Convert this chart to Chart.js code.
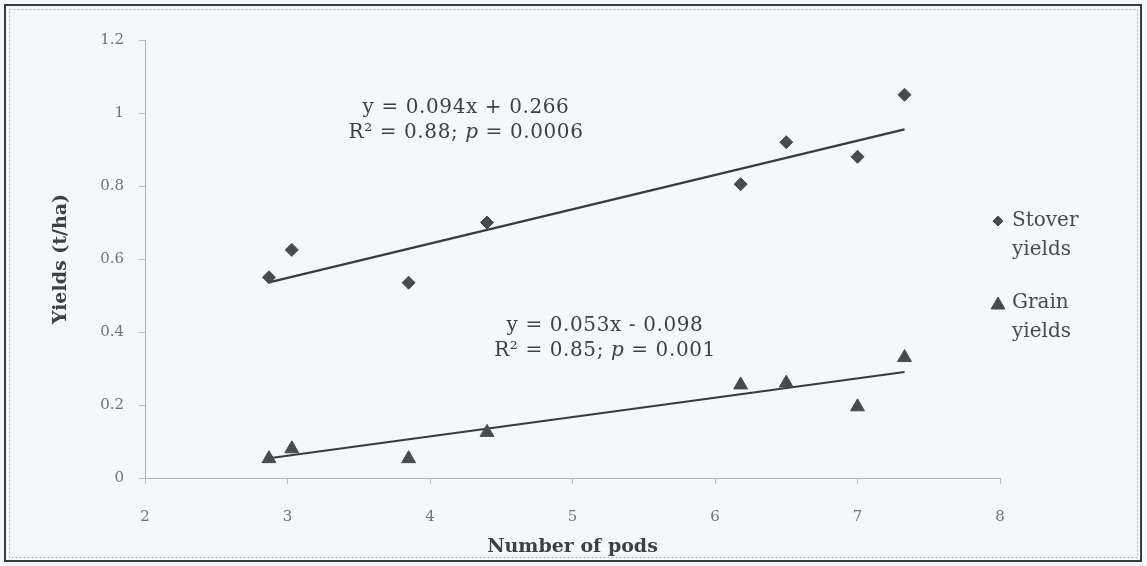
<!DOCTYPE html>
<html>
<head>
<meta charset="utf-8">
<title>Yields vs number of pods</title>
<script src="https://cdn.jsdelivr.net/npm/chart.js@4.4.1/dist/chart.umd.min.js"></script>
<style>
  html, body { margin: 0; padding: 0; background: #f4f8fa; }
  #wrap { width: 1147px; height: 566px; }
</style>
</head>
<body>
<div id="wrap"><canvas id="chart" width="1147" height="566"></canvas></div>
<script>
// Observations: number of pods per plant and the matching yields (t/ha)
const podCount    = [2.87, 3.03, 3.85, 4.40, 6.18, 6.50, 7.00, 7.33];
const stoverYield = [0.55, 0.625, 0.535, 0.70, 0.805, 0.92, 0.88, 1.05];
const grainYield  = [0.053, 0.08, 0.053, 0.125, 0.255, 0.26, 0.195, 0.33];

// Fitted regressions: [slope, intercept]
const stoverFit = [0.094, 0.266];
const grainFit  = [0.053, -0.098];
const fitRange  = [2.87, 7.33];

// Regression annotation text
const stoverNote = ['y = 0.094x + 0.266', ['R² = 0.88; ', 'p', ' = 0.0006']];
const grainNote  = ['y = 0.053x - 0.098', ['R² = 0.85; ', 'p', ' = 0.001']];

// Axis settings
const xTicks = { min: 2, max: 8, step: 1 };
const yTicks = { min: 0, max: 1.2, step: 0.2 };
const xTitle = 'Number of pods';
const yTitle = 'Yields (t/ha)';

const toPoints = (xs, ys) => xs.map((x, i) => ({ x, y: ys[i] }));
const fitLine = (fit) => fitRange.map(x => ({ x, y: fit[0] * x + fit[1] }));

const markerColor = '#4a4a4a';
const serif = "'DejaVu Serif', 'Liberation Serif', serif";

// Page background and the double frame around the figure
const framePlugin = {
  id: 'frame',
  beforeDraw(chart) {
    const ctx = chart.ctx;
    ctx.save();
    ctx.fillStyle = '#f4f8fa';
    ctx.fillRect(0, 0, chart.width, chart.height);
    ctx.strokeStyle = '#3a3a3a';
    ctx.lineWidth = 2;
    ctx.strokeRect(5, 5, chart.width - 11, chart.height - 10);
    ctx.strokeStyle = '#b0b4b6';
    ctx.lineWidth = 1;
    ctx.setLineDash([2, 2]);
    ctx.strokeRect(9.5, 9.5, chart.width - 19, chart.height - 18);
    ctx.restore();
  }
};

// Draws a line of text, with one italic segment, centred on x
function drawMixed(ctx, parts, cx, cy, size) {
  const fonts = parts.map((_, i) => (i === 1 ? 'italic ' : '') + size + 'px ' + serif);
  const widths = parts.map((p, i) => { ctx.font = fonts[i]; return ctx.measureText(p).width; });
  let x = cx - widths.reduce((a, b) => a + b, 0) / 2;
  parts.forEach((p, i) => {
    ctx.font = fonts[i];
    ctx.fillText(p, x, cy);
    x += widths[i];
  });
}

// Regression equations placed beside each fitted line
const notesPlugin = {
  id: 'notes',
  afterDatasetsDraw(chart, args, opts) {
    const ctx = chart.ctx;
    ctx.save();
    ctx.fillStyle = '#404040';
    ctx.textBaseline = 'middle';
    ctx.textAlign = 'left';
    ctx.letterSpacing = opts.spacing + 'px';
    opts.items.forEach(item => {
      drawMixed(ctx, [item.text[0]], item.x, item.y, opts.size);
      drawMixed(ctx, item.text[1], item.x, item.y + opts.gap, opts.size);
    });
    ctx.restore();
  }
};

// Legend at the right, each label wrapped onto two lines
const sideLegendPlugin = {
  id: 'sideLegend',
  afterDraw(chart, args, opts) {
    const ctx = chart.ctx;
    ctx.save();
    ctx.textBaseline = 'middle';
    ctx.textAlign = 'left';
    ctx.font = opts.size + 'px ' + serif;
    let y = opts.y;
    chart.data.datasets.forEach(ds => {
      if (!ds.showInLegend) return;
      ctx.fillStyle = ds.backgroundColor;
      ctx.strokeStyle = ds.borderColor;
      Chart.helpers.drawPoint(ctx, {
        pointStyle: ds.pointStyle,
        radius: ds.legendRadius,
        borderWidth: 1
      }, opts.x, y + ds.legendShift);
      ctx.fillStyle = '#4a4a4a';
      ds.label.split(' ').forEach((word, i) => {
        ctx.fillText(word, opts.x + 14, y + i * opts.lineGap);
      });
      y += opts.blockGap;
    });
    ctx.restore();
  }
};

// Tick labels without trailing zeros (1 rather than 1.0)
const plainNumber = (value) => String(Number(value.toFixed(1)));

new Chart(document.getElementById('chart'), {
  type: 'scatter',
  data: {
    datasets: [
      {
        label: 'Stover yields',
        data: toPoints(podCount, stoverYield),
        pointStyle: 'rectRot',
        pointRadius: 6.5,
        backgroundColor: markerColor,
        borderColor: markerColor,
        borderWidth: 1,
        showInLegend: true,
        legendRadius: 5,
        legendShift: 0
      },
      {
        label: 'Grain yields',
        data: toPoints(podCount, grainYield),
        pointStyle: 'triangle',
        pointRadius: 8,
        backgroundColor: markerColor,
        borderColor: markerColor,
        borderWidth: 1,
        showInLegend: true,
        legendRadius: 8,
        legendShift: 2
      },
      {
        type: 'line',
        label: 'Stover fit',
        data: fitLine(stoverFit),
        borderColor: '#3a3a3a',
        borderWidth: 2.2,
        pointRadius: 0,
        fill: false
      },
      {
        type: 'line',
        label: 'Grain fit',
        data: fitLine(grainFit),
        borderColor: '#3a3a3a',
        borderWidth: 2.2,
        pointRadius: 0,
        fill: false
      }
    ]
  },
  options: {
    responsive: false,
    animation: false,
    layout: { padding: { left: 50, right: 147, top: 40, bottom: 8 } },
    plugins: {
      legend: { display: false },
      tooltip: { enabled: false },
      notes: {
        size: 20,
        spacing: 0.6,
        gap: 25,
        items: [
          { text: stoverNote, x: 466, y: 108 },
          { text: grainNote, x: 605, y: 326 }
        ]
      },
      sideLegend: { x: 998, y: 221, size: 20, lineGap: 29, blockGap: 82 }
    },
    scales: {
      x: {
        type: 'linear',
        min: xTicks.min,
        max: xTicks.max,
        afterFit(scale) { scale.height = 80; },
        ticks: {
          stepSize: xTicks.step,
          padding: 24,
          color: '#737373',
          font: { family: serif, size: 15 },
          callback: plainNumber
        },
        grid: { display: true, drawOnChartArea: false, drawTicks: true, tickLength: 6, color: '#bbbbbb' },
        border: { display: true, color: '#b0b0b0', dash: [2, 2], width: 1 },
        title: {
          display: true,
          text: xTitle,
          color: '#404040',
          padding: 0,
          font: { family: serif, size: 19, weight: 'bold' }
        }
      },
      y: {
        type: 'linear',
        min: yTicks.min,
        max: yTicks.max,
        afterFit(scale) { scale.width = 95; },
        ticks: {
          stepSize: yTicks.step,
          padding: 15,
          color: '#737373',
          font: { family: serif, size: 15 },
          callback: plainNumber
        },
        grid: { display: true, drawOnChartArea: false, drawTicks: true, tickLength: 6, color: '#bbbbbb' },
        border: { display: true, color: '#b0b0b0', dash: [2, 2], width: 1 },
        title: {
          display: true,
          text: yTitle,
          color: '#404040',
          padding: 0,
          font: { family: serif, size: 19, weight: 'bold' }
        }
      }
    }
  },
  plugins: [framePlugin, notesPlugin, sideLegendPlugin]
});
</script>
</body>
</html>
